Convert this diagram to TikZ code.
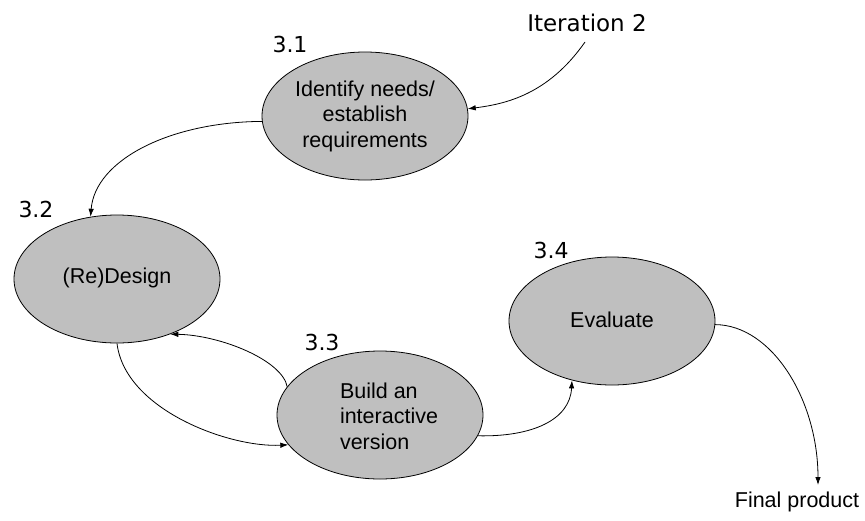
\documentclass[tikz,border=0pt]{standalone}
\usepackage{fontspec}
\setmainfont{Liberation Sans}
\newfontfamily\numfont{DejaVu Sans}
\usetikzlibrary{shapes.geometric,arrows.meta}
\tikzset{
  stage/.style={ellipse, draw=black, line width=0.8pt, fill=gray!50,
    minimum width=206pt, minimum height=128pt, inner sep=0pt,
    font=\fontsize{21.5}{25.5}\selectfont, text=black},
  tag/.style={inner sep=0pt, font=\numfont\fontsize{22}{26}\selectfont},
  plain/.style={inner sep=0pt, font=\fontsize{21.5}{25.5}\selectfont},
  flow/.style={line width=0.8pt, -{Latex[length=8pt,width=5.5pt]}}
}
\begin{document}
\begin{tikzpicture}[x=1pt,y=-1pt]
  \useasboundingbox (0,0) rectangle (865,520);

  % process stages
  \node[stage, align=center] (e1) at (365,116) {Identify needs/\\establish\\requirements};
  \node[stage] (e2) at (117,279) {};
  \node[plain] (e2t) at (117,278) {(Re)Design};
  \node[stage] (e3) at (380,415) {};
  \node[plain, align=left] (e3t) at (389,416) {Build an\\interactive\\version};
  \node[stage] (e4) at (612,321) {};
  \node[plain] (e4t) at (612,320) {Evaluate};

  % stage numbers
  \node[tag] (t1) at (290,44) {3.1};
  \node[tag] (t2) at (36,209) {3.2};
  \node[tag] (t3) at (322,342) {3.3};
  \node[tag] (t4) at (551,250) {3.4};

  % entry and exit
  \node[tag, font=\numfont\fontsize{23}{27}\selectfont] (it) at (587,23) {Iteration 2};
  \coordinate (itfoot) at (585,42);
  \node[plain] (fin) at (797,502) {Final product};
  \coordinate (finhead) at (818,485);

  % connectors
  \draw[flow] (itfoot) .. controls (548,95) and (505,104) .. (e1.4);
  \draw[flow] (e1.183) .. controls (170,122) and (95,160) .. (e2.113);
  \draw[flow] (e2.270) .. controls (125,410) and (230,448) .. (e3.198);
  \draw[flow] (e3.163) .. controls (282,360) and (220,335) .. (e2.314);
  \draw[flow] (e3.348) .. controls (532,437) and (570,420) .. (e4.236);
  \draw[flow] (e4.358) .. controls (772,325) and (818,400) .. (finhead);
\end{tikzpicture}
\end{document}
